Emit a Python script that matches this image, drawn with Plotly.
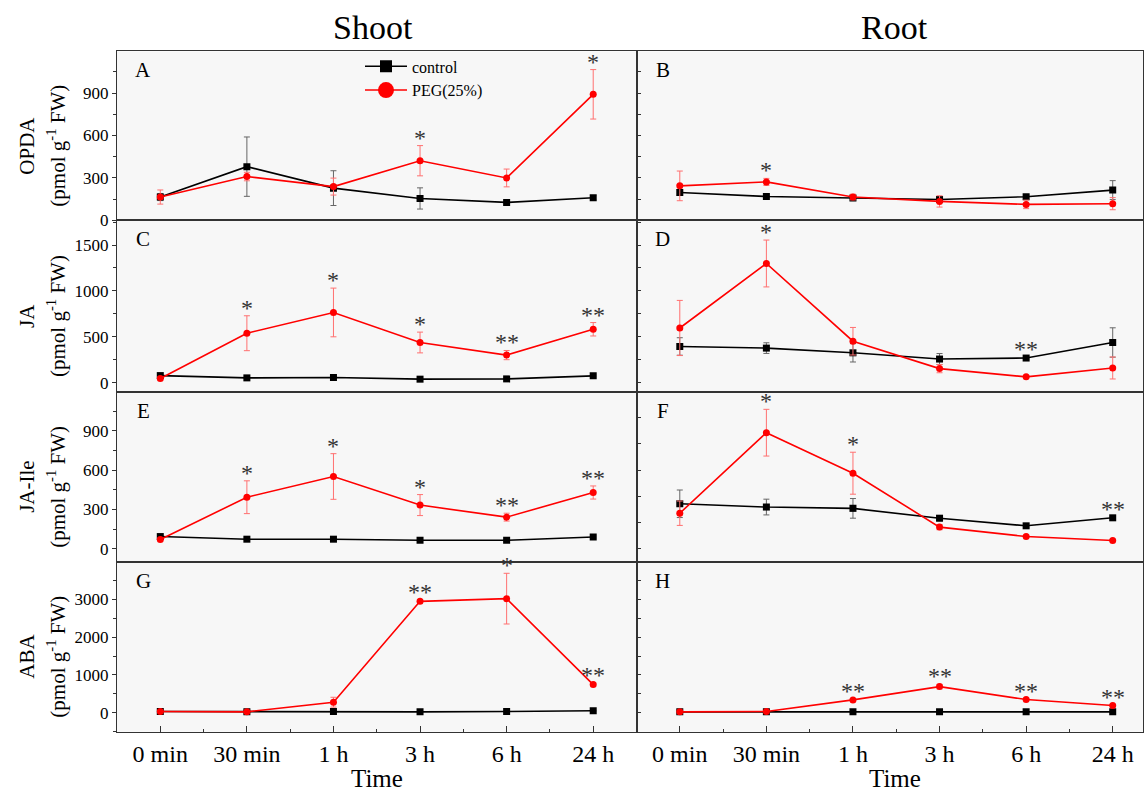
import plotly.graph_objects as go

# ---------------- data ----------------
time_labels = ["0 min", "30 min", "1 h", "3 h", "6 h", "24 h"]

A_ctrl = [164, 379, 227, 154, 126, 159]
A_ctrl_err = [25, 210, 123, 75, 10, 15]
A_peg = [164, 309, 238, 421, 299, 891]
A_peg_err = [50, 30, 60, 107, 63, 175]
A_sig = ["", "", "", "*", "", "*"]

B_ctrl = [196, 168, 157, 147, 166, 213]
B_ctrl_err = [20, 10, 15, 15, 10, 67]
B_peg = [243, 271, 164, 133, 112, 117]
B_peg_err = [105, 25, 20, 40, 30, 43]
B_sig = ["", "*", "", "", "", ""]

C_ctrl = [79, 54, 58, 40, 43, 76]
C_ctrl_err = [10, 10, 10, 10, 10, 10]
C_peg = [47, 540, 766, 439, 302, 583]
C_peg_err = [15, 190, 265, 113, 50, 73]
C_sig = ["", "*", "*", "*", "**", "**"]

D_ctrl = [396, 378, 327, 259, 270, 439]
D_ctrl_err = [95, 58, 100, 60, 15, 160]
D_peg = [597, 1299, 453, 155, 65, 162]
D_peg_err = [300, 255, 150, 45, 10, 120]
D_sig = ["", "*", "", "", "**", ""]

E_ctrl = [93, 73, 73, 65, 65, 90]
E_ctrl_err = [8, 8, 8, 8, 8, 8]
E_peg = [70, 393, 551, 333, 241, 429]
E_peg_err = [10, 125, 174, 80, 30, 50]
E_sig = ["", "*", "*", "*", "**", "**"]

F_ctrl = [343, 318, 308, 233, 175, 236]
F_ctrl_err = [105, 60, 75, 20, 15, 8]
F_peg = [271, 885, 576, 165, 93, 63]
F_peg_err = [93, 178, 160, 20, 8, 8]
F_sig = ["", "*", "*", "", "", "**"]

G_ctrl = [35, 26, 35, 26, 35, 53]
G_ctrl_err = [10, 10, 10, 10, 10, 10]
G_peg = [35, 26, 281, 2947, 3018, 746]
G_peg_err = [10, 10, 130, 40, 670, 40]
G_sig = ["", "", "", "**", "*", "**"]

H_ctrl = [26, 26, 30, 26, 26, 26]
H_ctrl_err = [10, 10, 10, 10, 10, 10]
H_peg = [26, 35, 342, 693, 351, 193]
H_peg_err = [10, 10, 30, 60, 20, 20]
H_sig = ["", "", "**", "**", "**", "**"]

panel_letters = ["A", "B", "C", "D", "E", "F", "G", "H"]
row_names = ["OPDA", "JA", "JA-Ile", "ABA"]
row_ranges = [[0, 1195], [-100, 1770], [-100, 1195], [-500, 3990]]
row_dtick = [300, 500, 300, 1000]
right_dtick = [150, 250, 200, 500]
col_titles = ["Shoot", "Root"]

panels = [
    (A_ctrl, A_ctrl_err, A_peg, A_peg_err, A_sig),
    (B_ctrl, B_ctrl_err, B_peg, B_peg_err, B_sig),
    (C_ctrl, C_ctrl_err, C_peg, C_peg_err, C_sig),
    (D_ctrl, D_ctrl_err, D_peg, D_peg_err, D_sig),
    (E_ctrl, E_ctrl_err, E_peg, E_peg_err, E_sig),
    (F_ctrl, F_ctrl_err, F_peg, F_peg_err, F_sig),
    (G_ctrl, G_ctrl_err, G_peg, G_peg_err, G_sig),
    (H_ctrl, H_ctrl_err, H_peg, H_peg_err, H_sig),
]

# ---------------- layout geometry ----------------
W, H = 1144, 799
FONT = "Liberation Serif"
AX = "#333333"
col_px = [(117, 636.5), (636.5, 1143)]
row_px = [(52, 223), (223, 397), (397, 569), (569, 741)]
xpos = list(range(len(time_labels)))
unit_px = (636.5 - 117) / 6.0

fig = go.Figure()
layout = dict(
    width=W, height=H,
    margin=dict(l=0, r=0, t=0, b=0),
    paper_bgcolor="white",
    plot_bgcolor="#f7f7f7",
    font=dict(family=FONT, color="black"),
    showlegend=True,
)
annotations = []

for i, (c, ce, p, pe, sig) in enumerate(panels):
    r, col = divmod(i, 2)
    k = i + 1
    xa = "x" if k == 1 else f"x{k}"
    ya = "y" if k == 1 else f"y{k}"
    xname = "xaxis" if k == 1 else f"xaxis{k}"
    yname = "yaxis" if k == 1 else f"yaxis{k}"
    x0, x1 = col_px[col]
    top, bot = row_px[r]
    xdom = [x0 / W, x1 / W]
    ydom = [1 - bot / H, 1 - top / H]

    fig.add_trace(go.Scatter(
        x=xpos, y=c, xaxis=xa, yaxis=ya, mode="lines+markers",
        line=dict(color="black", width=1.6),
        marker=dict(symbol="square", size=7, color="black"),
        error_y=dict(type="data", array=ce, color="#666666", thickness=1, width=3),
        showlegend=False, name="control"))
    fig.add_trace(go.Scatter(
        x=xpos, y=p, xaxis=xa, yaxis=ya, mode="lines+markers",
        line=dict(color="#ff0000", width=1.6),
        marker=dict(symbol="circle", size=7, color="#ff0000"),
        error_y=dict(type="data", array=pe, color="#ff7070", thickness=1, width=3),
        showlegend=False, name="PEG(25%)"))

    bottom = (r == 3)
    xr = [-0.5, 5.5] if col == 0 else [-0.5, (x1 - x0) / unit_px - 0.5]
    layout[xname] = dict(
        domain=xdom, anchor=ya, range=xr, showgrid=False, zeroline=False,
        showline=True, linecolor=AX, linewidth=1.3, mirror=True,
        tickmode="array", tickvals=xpos, ticktext=time_labels,
        showticklabels=bottom, ticks="inside" if bottom else "",
        ticklen=6, tickwidth=1.2, tickcolor=AX,
        tickfont=dict(family=FONT, size=24, color="black"),
        minor=dict(tickvals=[0.5, 1.5, 2.5, 3.5, 4.5], ticks="inside" if bottom else "",
                   ticklen=3, tickwidth=1, tickcolor=AX),
    )
    if col == 0:
        ycfg = dict(ticks="outside", ticklen=4, showticklabels=True, dtick=row_dtick[r],
                    minor=dict(ticks="outside", ticklen=2.5, dtick=row_dtick[r] / 2, tick0=0,
                               tickcolor=AX, tickwidth=1))
    else:
        ycfg = dict(ticks="inside", ticklen=4, showticklabels=False, dtick=right_dtick[r])
    layout[yname] = dict(
        domain=ydom, anchor=xa, range=row_ranges[r], showgrid=False, zeroline=False,
        showline=True, linecolor=AX, linewidth=1.3, mirror=True,
        tick0=0, tickmode="linear", tickwidth=1.2, tickcolor=AX,
        tickfont=dict(family=FONT, size=17, color="black"),
        **ycfg)

    # panel letter
    annotations.append(dict(
        x=(x0 + 26) / W, y=1 - (top + 19) / H, xref="paper", yref="paper",
        text=panel_letters[i], showarrow=False, xanchor="center", yanchor="middle",
        font=dict(family=FONT, size=21, color="black")))

    # significance marks
    for j, s in enumerate(sig):
        if s:
            ytop = max(c[j] + ce[j], p[j] + pe[j])
            annotations.append(dict(
                x=xpos[j], y=ytop, xref=xa, yref=ya, text=s, showarrow=False,
                xanchor="center", yanchor="middle", yshift=8,
                font=dict(family=FONT, size=24, color="#333333")))

# y-axis titles (two lines each)
for r, nm in enumerate(row_names):
    top, bot = row_px[r]
    yc = 1 - ((top + bot) / 2 + 10) / H
    annotations.append(dict(x=27 / W, y=yc, xref="paper", yref="paper", text=nm,
                            textangle=-90, showarrow=False, xanchor="center", yanchor="middle",
                            font=dict(family=FONT, size=21, color="black")))
    annotations.append(dict(x=57 / W, y=yc, xref="paper", yref="paper",
                            text="(pmol g<sup>-1</sup> FW)",
                            textangle=-90, showarrow=False, xanchor="center", yanchor="middle",
                            font=dict(family=FONT, size=21, color="black")))

# column titles and x titles
for col, t in enumerate(col_titles):
    cx = 373 if col == 0 else 894
    annotations.append(dict(x=cx / W, y=1 - 28 / H, xref="paper", yref="paper", text=t,
                            showarrow=False, xanchor="center", yanchor="middle",
                            font=dict(family=FONT, size=34, color="black")))
    tx = 377 if col == 0 else 895
    annotations.append(dict(x=tx / W, y=1 - 788 / H, xref="paper", yref="paper", text="Time",
                            showarrow=False, xanchor="center", yanchor="middle",
                            font=dict(family=FONT, size=25, color="black")))

# legend-only traces
fig.add_trace(go.Scatter(x=[None], y=[None], mode="lines+markers", name="control",
                         line=dict(color="black", width=1.6),
                         marker=dict(symbol="square", size=12, color="black")))
fig.add_trace(go.Scatter(x=[None], y=[None], mode="lines+markers", name="PEG(25%)",
                         line=dict(color="#ff0000", width=1.6),
                         marker=dict(symbol="circle", size=16, color="#ff0000")))

layout["legend"] = dict(x=360 / W, y=1 - 50 / H, xanchor="left", yanchor="top",
                        bgcolor="rgba(0,0,0,0)", borderwidth=0, tracegroupgap=0,
                        itemwidth=42,
                        font=dict(family=FONT, size=16, color="black"))
layout["annotations"] = annotations
fig.update_layout(**layout)
fig.write_html("out.html", config={"displayModeBar": False},
               post_script="document.body.style.margin='0';document.body.style.overflow='hidden';")
